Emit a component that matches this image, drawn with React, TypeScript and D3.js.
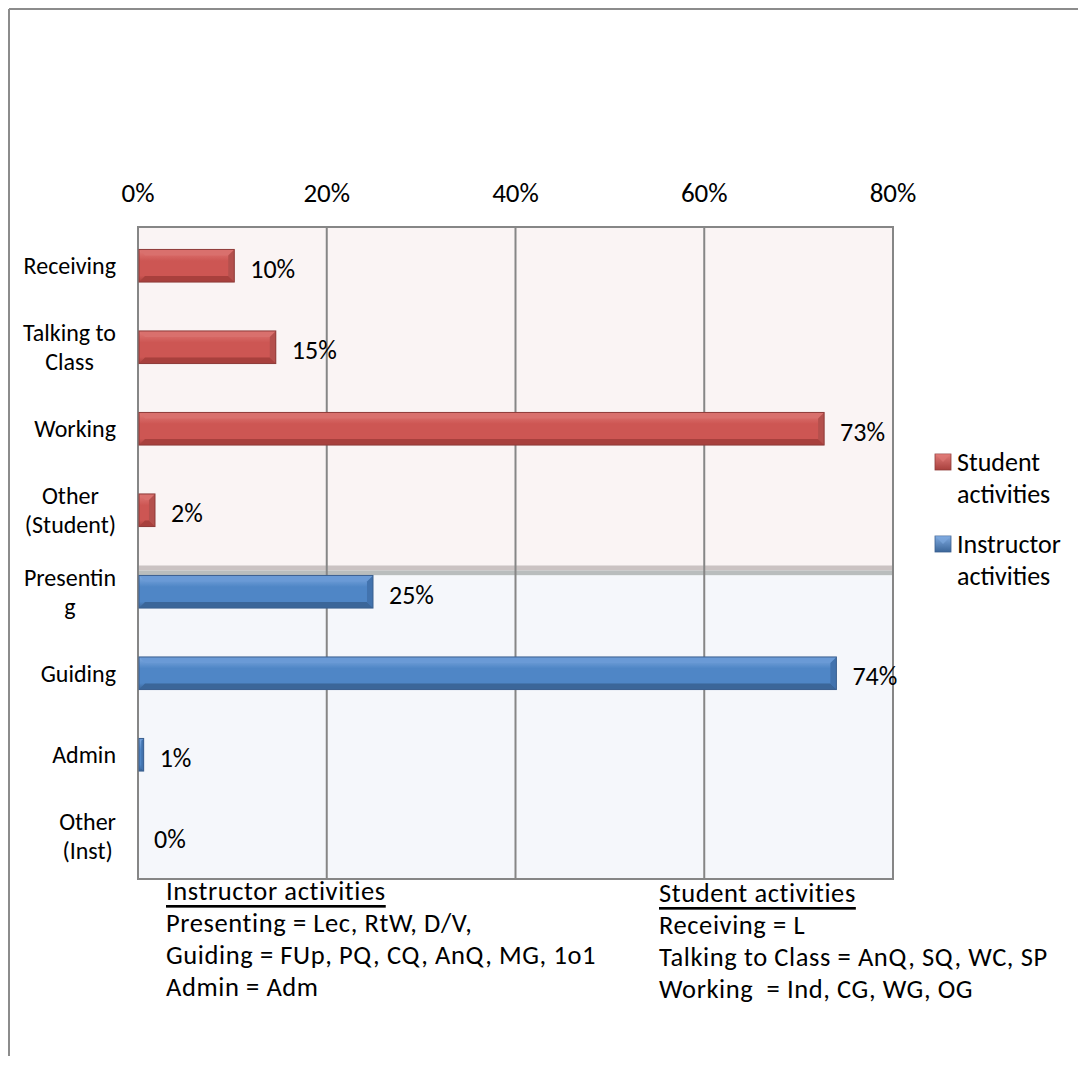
import React from "react";
import * as d3 from "d3";

const categories = [
  "Receiving",
  "Talking to Class",
  "Working",
  "Other (Student)",
  "Presenting",
  "Guiding",
  "Admin",
  "Other (Inst)",
];
const categoryLines = [
  ["Receiving"],
  ["Talking to", "Class"],
  ["Working"],
  ["Other", "(Student)"],
  ["Presentin", "g"],
  ["Guiding"],
  ["Admin"],
  ["Other", "(Inst)"],
];
const groups = ["student", "student", "student", "student", "instructor", "instructor", "instructor", "instructor"];
const values = [0.102, 0.146, 0.727, 0.018, 0.249, 0.74, 0.006, 0.0];
const ticks = [0, 0.2, 0.4, 0.6, 0.8];
const legendItems = [
  { key: "student", lines: ["Student", "activities"] },
  { key: "instructor", lines: ["Instructor", "activities"] },
];
const instructorNotes = [
  "Presenting = Lec, RtW, D/V,",
  "Guiding = FUp, PQ, CQ, AnQ, MG, 1o1",
  "Admin = Adm",
];
const studentNotes = [
  "Receiving = L",
  "Talking to Class = AnQ, SQ, WC, SP",
  "Working  = Ind, CG, WG, OG",
];

const FONT = "Carlito, Calibri, Lato, sans-serif";

const palette: Record<string, { face: string; light: string; top: string; dark: string; edge: string; stroke: string }> = {
  student: { face: "#CD5653", light: "#E07A77", top: "#D9706D", dark: "#A8403D", edge: "#B4504D", stroke: "#8E3B39" },
  instructor: { face: "#4F86C6", light: "#7FAAE0", top: "#6A9AD6", dark: "#3B6699", edge: "#4273AE", stroke: "#3A5F8F" },
};

let measureCtx: CanvasRenderingContext2D | null = null;
function measure(text: string, size: number): number {
  if (!measureCtx) {
    const c = document.createElement("canvas");
    measureCtx = c.getContext("2d");
  }
  if (!measureCtx) return text.length * size * 0.5;
  measureCtx.font = `${size}px ${FONT}`;
  return measureCtx.measureText(text).width;
}

function Bar({ x0, x1, y0, y1, group }: { x0: number; x1: number; y0: number; y1: number; group: string }) {
  const p = palette[group];
  const w = x1 - x0;
  if (w <= 0) return null;
  const h = y1 - y0;
  const b = Math.min(6, w / 2, h / 3);
  const gid = `grad-${group}`;
  return (
    <g>
      <rect x={x0} y={y0} width={w} height={h} fill={`url(#${gid})`} />
      <polygon points={`${x0},${y0} ${x1},${y0} ${x1 - b},${y0 + b} ${x0 + b},${y0 + b}`} fill={p.top} />
      <polygon points={`${x0},${y1} ${x1},${y1} ${x1 - b},${y1 - b} ${x0 + b},${y1 - b}`} fill={p.dark} />
      <polygon points={`${x1},${y0} ${x1},${y1} ${x1 - b},${y1 - b} ${x1 - b},${y0 + b}`} fill={p.edge} />
      <rect x={x0} y={y0} width={w} height={h} fill="none" stroke={p.stroke} strokeWidth={1} />
    </g>
  );
}

export default function App() {
  const W = 1078;
  const H = 1068;
  const left = 138;
  const right = 893;
  const top = 227;
  const bottom = 879;

  const x = d3.scaleLinear().domain([0, 0.8]).range([left, right]);
  const y = d3.scaleBand<string>().domain(categories).range([top - 2, bottom - 2]).paddingInner(0.6).paddingOuter(0.3);
  const bw = y.bandwidth();
  const fmt = d3.format(".0%");

  const splitTop = (y("Presenting") as number) - 10;
  const splitBottom = y("Presenting") as number;

  const catSize = 24;
  const catLH = 29;
  const noteSize = 26.5;
  const noteLS = 0.6;

  return (
    <svg
      width={W}
      height={H}
      style={{ position: "absolute", left: 0, top: 0, display: "block" }}
      fontFamily={FONT}
    >
      <defs>
        {Object.keys(palette).map((k) => (
          <linearGradient key={k} id={`grad-${k}`} x1="0" y1="0" x2="0" y2="1">
            <stop offset="0" stopColor={palette[k].light} />
            <stop offset="0.35" stopColor={palette[k].face} />
            <stop offset="0.8" stopColor={palette[k].face} />
            <stop offset="1" stopColor={palette[k].dark} />
          </linearGradient>
        ))}
        {Object.keys(palette).map((k) => (
          <linearGradient key={"l" + k} id={`leg-${k}`} x1="0" y1="0" x2="0" y2="1">
            <stop offset="0" stopColor={palette[k].light} />
            <stop offset="1" stopColor={palette[k].dark} />
          </linearGradient>
        ))}
      </defs>
      <rect x={0} y={0} width={W} height={H} fill="#ffffff" />
      {/* outer frame */}
      <line x1={9} y1={9} x2={W} y2={9} stroke="#8c8c8c" strokeWidth={2} />
      <line x1={9} y1={9} x2={9} y2={1056} stroke="#8c8c8c" strokeWidth={2} />

      {/* plot backgrounds */}
      <rect x={left} y={top} width={right - left} height={splitTop - top} fill="#FAF4F4" />
      <rect x={left} y={splitTop} width={right - left} height={5} fill="#CAC2C2" />
      <rect x={left} y={splitTop + 5} width={right - left} height={splitBottom - splitTop - 5} fill="#B9BDBD" />
      <rect x={left} y={splitBottom} width={right - left} height={bottom - splitBottom} fill="#F5F7FB" />

      {/* gridlines */}
      {ticks.map((t) => (
        <line key={t} x1={x(t)} x2={x(t)} y1={top} y2={bottom} stroke="#868686" strokeWidth={2} />
      ))}
      <rect x={left} y={top} width={right - left} height={bottom - top} fill="none" stroke="#868686" strokeWidth={2} />

      {/* tick labels */}
      {ticks.map((t) => (
        <text key={"t" + t} x={x(t)} y={192} textAnchor="middle" dominantBaseline="central" fontSize={27} fill="#000">
          {fmt(t)}
        </text>
      ))}

      {/* bars */}
      {categories.map((c, i) => {
        const y0 = y(c) as number;
        return (
          <Bar key={c} x0={x(0) + 1} x1={x(values[i])} y0={y0} y1={y0 + bw} group={groups[i]} />
        );
      })}

      {/* value labels */}
      {categories.map((c, i) => {
        const cy = (y(c) as number) + bw / 2 + 3;
        return (
          <text key={"v" + c} x={x(values[i]) + 16} y={cy} dominantBaseline="central" fontSize={26} fill="#000">
            {fmt(values[i])}
          </text>
        );
      })}

      {/* category labels */}
      {categories.map((c, i) => {
        const lines = categoryLines[i];
        const maxW = Math.max(...lines.map((l) => measure(l, catSize)));
        const cx = 116 - maxW / 2;
        const cy = (y(c) as number) + bw / 2;
        const startY = cy - ((lines.length - 1) * catLH) / 2;
        return (
          <text key={"c" + c} x={cx} textAnchor="middle" fontSize={catSize} fill="#000">
            {lines.map((l, j) => (
              <tspan key={j} x={cx} y={startY + j * catLH} dominantBaseline="central">
                {l}
              </tspan>
            ))}
          </text>
        );
      })}

      {/* legend */}
      {legendItems.map((it, i) => {
        const ly = 462 + i * 82;
        return (
          <g key={it.key}>
            <rect x={935} y={ly - 8} width={16} height={16} fill={`url(#leg-${it.key})`} stroke={palette[it.key].stroke} strokeWidth={0.8} />
            <polygon points={`${935},${ly - 8} ${951},${ly - 8} ${943},${ly}`} fill={palette[it.key].light} opacity={0.6} />
            <text x={957} fontSize={26} fill="#000">
              {it.lines.map((l, j) => (
                <tspan key={j} x={957} y={ly + j * 32} dominantBaseline="central">
                  {l}
                </tspan>
              ))}
            </text>
          </g>
        );
      })}

      {/* notes */}
      <text x={166} y={891} fontSize={noteSize} letterSpacing={noteLS} fill="#000" dominantBaseline="central" textDecoration="underline">
        Instructor activities
      </text>
      {instructorNotes.map((n, i) => (
        <text key={"in" + i} x={166} y={923 + i * 32} fontSize={noteSize} letterSpacing={noteLS} fill="#000" dominantBaseline="central">
          {n}
        </text>
      ))}
      <text x={659} y={893} fontSize={noteSize} letterSpacing={noteLS} fill="#000" dominantBaseline="central" textDecoration="underline">
        Student activities
      </text>
      {studentNotes.map((n, i) => (
        <text key={"sn" + i} x={659} y={925 + i * 32} fontSize={noteSize} letterSpacing={noteLS} fill="#000" dominantBaseline="central" style={{ whiteSpace: "pre" }}>
          {n}
        </text>
      ))}
    </svg>
  );
}
